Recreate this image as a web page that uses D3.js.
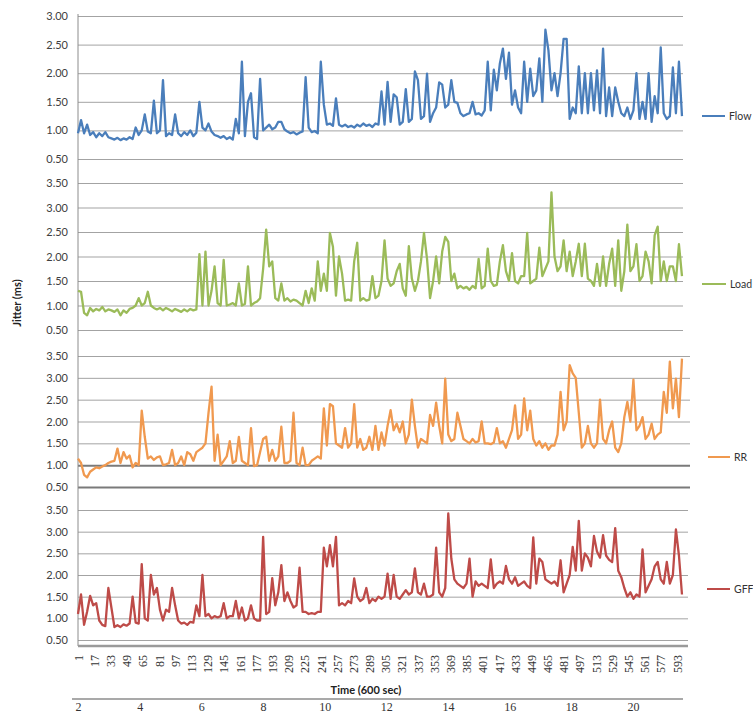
<!DOCTYPE html>
<html>
<head>
<meta charset="utf-8">
<script src="https://cdn.jsdelivr.net/npm/d3@7"></script>
<style>
  body { margin: 0; background: #fff; }
  svg { display: block; font-family: Lato, "Open Sans", sans-serif; }
</style>
</head>
<body>
<div id="chart"></div>
<script>
// sample positions (every 3rd second of the 600 s run)
const timeIdx = d3.range(1, 600, 3);

const flowVals = [
  0.95,1.18,0.95,1.1,0.92,0.97,0.88,0.95,0.9,0.97,
  0.88,0.86,0.84,0.87,0.83,0.86,0.84,0.88,0.85,1.05,
  0.92,1.0,1.28,0.98,0.95,1.52,0.95,1.0,1.88,0.9,
  0.95,0.92,1.28,0.95,0.9,0.97,0.92,1.0,0.9,0.96,
  1.5,1.05,1.0,1.12,0.98,0.92,0.9,0.87,0.9,0.85,
  0.88,0.84,1.2,0.95,2.2,0.9,1.5,1.65,0.88,0.85,
  1.9,1.0,1.05,1.1,1.02,1.05,1.15,1.15,1.02,0.98,
  0.95,0.97,0.93,0.96,0.98,1.93,1.05,0.97,0.99,0.95,
  2.2,1.45,1.1,1.12,1.08,1.56,1.1,1.07,1.1,1.06,
  1.08,1.05,1.1,1.07,1.12,1.08,1.1,1.06,1.12,1.1,
  1.68,1.1,1.85,1.15,1.63,1.58,1.1,1.15,1.72,1.15,
  1.2,2.03,1.88,1.2,1.25,1.99,1.15,1.3,1.4,1.84,
  1.8,1.4,1.45,1.88,1.5,1.48,1.3,1.25,1.28,1.3,
  1.5,1.28,1.3,1.26,1.35,2.2,1.35,2.06,1.7,2.17,
  2.43,1.9,2.36,1.45,1.7,1.4,1.3,2.2,1.5,2.08,
  1.6,1.7,2.26,1.5,2.76,2.4,1.7,2.0,1.6,2.0,
  2.6,2.6,1.2,1.4,1.3,2.12,1.3,2.0,1.3,2.0,
  1.35,2.05,1.3,2.43,1.25,1.75,1.25,1.75,1.5,1.3,
  1.25,1.4,1.2,1.35,2.0,1.2,1.5,1.2,2.0,1.15,
  1.6,1.3,2.45,1.3,1.2,1.25,2.1,1.3,2.2,1.25
];

const loadVals = [
  1.3,1.28,0.85,0.8,0.95,0.88,0.93,0.9,0.97,0.88,
  0.92,0.9,0.87,0.92,0.8,0.9,0.85,0.93,0.95,1.0,
  1.15,1.0,1.05,1.28,1.0,0.95,0.92,0.95,0.9,0.95,
  0.92,0.88,0.93,0.9,0.87,0.92,0.88,0.93,0.9,0.92,
  2.05,1.0,2.1,1.0,1.3,1.8,1.05,1.0,1.93,1.0,
  1.02,1.05,1.0,1.45,1.0,1.03,1.8,1.0,1.05,1.08,
  1.15,1.75,2.55,1.8,1.9,1.15,1.1,1.45,1.1,1.15,
  1.08,1.12,1.1,1.05,1.0,1.3,1.05,1.35,1.1,1.9,
  1.3,1.65,1.3,2.48,2.2,1.2,2.0,1.65,1.1,1.12,
  1.1,1.9,2.28,1.1,1.15,1.1,1.12,1.6,1.15,1.2,
  1.5,2.33,1.55,1.4,1.45,1.7,1.85,1.35,1.2,2.21,
  1.55,1.3,1.5,1.9,2.48,1.95,1.15,1.5,2.0,1.45,
  2.1,2.4,2.3,1.5,1.65,1.35,1.4,1.35,1.38,1.32,
  1.4,1.35,1.95,1.35,1.4,2.16,1.5,1.4,1.42,1.9,
  2.23,1.7,1.5,2.07,1.5,1.45,1.6,1.6,2.48,1.45,
  1.5,1.55,2.18,1.6,1.75,1.9,3.31,2.0,1.7,1.8,
  2.33,1.7,2.1,1.6,1.9,2.26,1.6,2.26,1.55,1.5,
  1.4,1.85,1.4,2.0,1.4,1.85,2.16,1.4,2.33,1.3,
  1.7,2.65,1.7,1.8,2.25,1.5,1.6,2.1,1.9,1.45,
  2.43,2.61,1.5,1.9,1.5,1.8,1.8,1.5,2.25,1.6
];

const rrVals = [
  1.15,1.05,0.78,0.72,0.85,0.9,0.95,0.93,0.97,1.0,
  1.05,1.08,1.1,1.38,1.05,1.3,1.15,1.22,0.95,1.05,
  1.0,2.25,1.65,1.15,1.2,1.12,1.18,1.2,1.0,1.02,
  1.05,1.35,1.0,1.05,1.2,1.0,1.3,1.25,1.1,1.3,
  1.35,1.4,1.5,2.2,2.8,1.1,1.7,1.0,1.1,1.2,
  1.55,1.05,1.1,1.65,1.1,1.05,1.0,1.85,0.98,1.0,
  1.3,1.6,1.65,1.1,1.35,1.1,1.2,1.88,1.05,1.05,
  1.1,2.2,1.05,1.0,1.4,1.0,1.0,1.1,1.15,1.2,
  1.15,2.3,1.45,2.4,2.35,1.5,1.45,1.4,1.85,1.4,
  1.5,2.4,1.4,1.6,1.35,1.4,1.65,1.35,1.9,1.35,
  1.75,1.45,1.9,2.26,1.8,1.95,1.75,2.0,1.5,1.7,
  2.5,1.9,1.4,1.6,1.55,1.5,2.15,1.9,2.43,1.9,
  1.5,2.98,1.7,1.55,1.6,2.2,1.9,1.6,1.55,1.5,
  1.6,1.52,1.55,2.0,1.5,1.5,1.48,1.52,1.85,1.5,
  1.55,1.4,1.6,1.8,2.37,1.6,1.7,2.53,1.8,2.25,
  1.6,1.45,1.55,1.4,1.5,1.35,1.45,1.45,1.7,2.68,
  1.8,2.0,3.29,3.1,3.0,2.2,1.4,1.5,1.9,1.5,
  1.4,1.5,2.5,1.6,1.5,1.8,2.0,1.4,1.3,1.5,
  2.1,2.45,2.0,2.96,1.8,1.9,2.1,1.6,1.7,1.95,
  1.6,1.7,1.75,2.68,2.2,3.37,2.3,2.98,2.1,3.44
];

const gffVals = [
  1.1,1.55,0.85,1.15,1.52,1.3,1.35,0.95,0.85,0.82,
  1.7,1.25,0.8,0.84,0.8,0.86,0.83,0.88,1.5,0.9,
  0.88,2.25,1.0,0.95,2.0,1.55,1.7,1.2,0.95,1.2,
  1.15,1.7,1.3,0.95,0.88,0.9,0.85,0.92,0.9,1.3,
  1.05,2.0,1.05,1.1,1.0,1.05,1.02,1.05,1.35,1.0,
  1.05,1.05,1.4,1.0,1.25,0.95,1.0,1.3,1.0,0.95,
  0.95,2.88,1.1,1.15,1.93,1.3,1.6,2.23,1.4,1.6,
  1.4,1.25,1.3,2.17,1.15,1.15,1.1,1.12,1.1,1.15,
  1.15,2.63,2.2,2.69,2.2,2.88,1.3,1.35,1.3,1.4,
  1.35,1.92,1.5,1.4,1.45,1.7,1.35,1.45,1.4,1.5,
  1.45,1.5,2.03,1.45,2.0,1.5,1.45,1.55,1.65,1.55,
  1.6,2.15,1.6,1.55,1.8,1.5,1.5,1.55,2.63,1.6,
  1.5,1.7,3.42,2.38,1.9,1.8,1.75,1.7,1.8,2.38,
  1.5,1.85,1.75,1.8,1.75,1.7,2.36,1.7,1.8,1.85,
  1.8,2.21,1.9,1.8,1.95,1.75,1.8,1.85,1.75,1.7,
  2.87,1.8,2.38,2.3,1.9,1.85,1.8,1.85,1.75,2.34,
  1.6,1.8,2.0,2.65,2.1,3.25,2.1,2.5,2.4,2.2,
  2.9,2.54,2.4,2.92,2.45,2.35,2.3,3.08,2.1,1.95,
  1.7,1.5,1.6,1.45,1.55,1.5,2.59,1.6,1.75,1.9,
  2.2,2.3,1.9,1.8,2.3,1.8,2.0,3.05,2.45,1.55
];

const yTicksFlow = [0.5, 1.0, 1.5, 2.0, 2.5, 3.0];
const yTicksOther = [0.5, 1.0, 1.5, 2.0, 2.5, 3.0, 3.5];
const xTickLabels = [1,17,33,49,65,81,97,113,129,145,161,177,193,209,225,241,257,273,
  289,305,321,337,353,369,385,401,417,433,449,465,481,497,513,529,545,561,577,593];
const minuteLabels = [2,4,6,8,10,12,14,16,18,20];

const width = 753, height = 713;
const left = 78;

const svg = d3.select('#chart').append('svg')
  .attr('width', width)
  .attr('height', height);

const x = d3.scaleLinear().domain([1, 600]).range([left, 684]);

// one entry per stacked chart
const panels = [
  { name: 'Flow', values: flowVals, color: '#4a7ebb', ticks: yTicksFlow, top: 16, bottom: 159,
    axTop: 14, axBot: 172, right: 683, legY: 116, legX: 702, legW: 23 },
  { name: 'Load', values: loadVals, color: '#9bbb59', ticks: yTicksOther, top: 183, bottom: 330,
    axTop: 172, axBot: 345, right: 683, legY: 284, legX: 702, legW: 24 },
  { name: 'RR', values: rrVals, color: '#f0994f', ticks: yTicksOther, top: 356, bottom: 487,
    axTop: 345, axBot: 500, right: 690, legY: 457, legX: 708, legW: 22 },
  { name: 'GFF', values: gffVals, color: '#be4b48', ticks: yTicksOther, top: 510, bottom: 640,
    axTop: 500, axBot: 646, right: 688, legY: 589, legX: 707, legW: 23 }
];

panels.forEach(p => {
  const y = d3.scaleLinear()
    .domain([0.5, d3.max(p.ticks)])
    .range([p.bottom, p.top]);

  const g = svg.append('g');

  // gridlines + tick labels
  const ax = g.append('g')
    .attr('transform', `translate(${left},0)`)
    .call(d3.axisLeft(y)
      .tickValues(p.ticks)
      .tickSize(-(p.right - left))
      .tickPadding(10)
      .tickFormat(d3.format('.2f')));
  ax.select('.domain').remove();
  ax.selectAll('.tick line')
    .attr('stroke', '#a3a3a3')
    .attr('stroke-width', 1);
  ax.selectAll('.tick text')
    .attr('fill', '#404040')
    .style('font-size', '11px')
    .style('font-family', 'Lato, "Open Sans", sans-serif');

  if (p.name === 'RR') {
    ax.selectAll('.tick line')
      .filter(d => d <= 1.0)
      .attr('stroke', '#7a7a7a')
      .attr('stroke-width', 2);
  }

  // vertical axis line
  g.append('line')
    .attr('x1', left).attr('x2', left)
    .attr('y1', p.axTop).attr('y2', p.axBot)
    .attr('stroke', '#8c8c8c')
    .attr('stroke-width', 1);

  // the series
  const line = d3.line()
    .x((d, i) => x(timeIdx[i]))
    .y(d => y(d));

  g.append('path')
    .datum(p.values)
    .attr('fill', 'none')
    .attr('stroke', p.color)
    .attr('stroke-width', 2.3)
    .attr('stroke-linejoin', 'round')
    .attr('d', line);

  // legend
  g.append('line')
    .attr('x1', p.legX).attr('x2', p.legX + p.legW)
    .attr('y1', p.legY).attr('y2', p.legY)
    .attr('stroke', p.color)
    .attr('stroke-width', 2);
  g.append('text')
    .attr('x', p.legX + p.legW + 4)
    .attr('y', p.legY + 4)
    .attr('fill', '#333')
    .style('font-size', '10.5px')
    .text(p.name);
});

// bottom category axis
svg.append('line')
  .attr('x1', left).attr('x2', 688)
  .attr('y1', 646).attr('y2', 646)
  .attr('stroke', '#9a9a9a')
  .attr('stroke-width', 2.5);

const xa = svg.append('g')
  .attr('transform', 'translate(0,646)')
  .call(d3.axisBottom(x).tickValues(xTickLabels).tickSize(0));
xa.select('.domain').remove();
xa.selectAll('.tick text')
  .attr('transform', 'rotate(-90)')
  .attr('text-anchor', 'end')
  .attr('x', -9)
  .attr('y', 0)
  .attr('dy', '.35em')
  .attr('fill', '#333')
  .style('font-size', '12px')
  .style('font-family', '"Liberation Serif", "DejaVu Serif", serif');

svg.append('text')
  .attr('x', 366)
  .attr('y', 694)
  .attr('text-anchor', 'middle')
  .attr('fill', '#222')
  .style('font-size', '11px')
  .style('font-weight', 'bold')
  .text('Time (600 sec)');

// minutes axis
const m = d3.scaleLinear().domain([2, 20]).range([78, 633]);
svg.append('line')
  .attr('x1', 72).attr('x2', 683)
  .attr('y1', 699).attr('y2', 699)
  .attr('stroke', '#8c8c8c')
  .attr('stroke-width', 1.5);
const ma = svg.append('g')
  .attr('transform', 'translate(0,699)')
  .call(d3.axisBottom(m).tickValues(minuteLabels).tickSize(0).tickPadding(3));
ma.select('.domain').remove();
ma.selectAll('.tick text')
  .attr('fill', '#333')
  .style('font-size', '12px')
  .style('font-family', '"Liberation Serif", "DejaVu Serif", serif');

// y label
svg.append('text')
  .attr('transform', 'translate(21,303) rotate(-90)')
  .attr('text-anchor', 'middle')
  .attr('fill', '#222')
  .style('font-size', '11px')
  .style('font-weight', 'bold')
  .text('Jitter (ms)');
</script>
</body>
</html>
